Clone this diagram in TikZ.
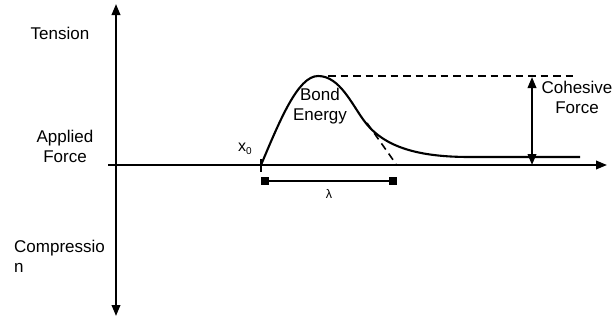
\documentclass[tikz,border=0pt]{standalone}
\usepackage{fontspec}
\setmainfont{Liberation Sans}
\usetikzlibrary{arrows.meta,positioning}

\begin{document}
\begin{tikzpicture}[
  x=1pt, y=-1pt,
  txt/.style={font=\fontsize{17}{20}\selectfont, align=center, inner sep=0pt},
  axis/.style={line width=2.1pt},
  tip/.style={-{Triangle[length=11pt,width=8.5pt]}},
  bothtips/.style={{Triangle[length=11pt,width=8.5pt]}-{Triangle[length=11pt,width=8.5pt]}},
  curve/.style={line width=2.1pt},
  guide/.style={line width=1.6pt, dash pattern=on 7.5pt off 5pt},
  endbox/.style={fill=black, minimum size=8pt, inner sep=0pt}
]
  \useasboundingbox (0,0) rectangle (615,322);

  % axes
  \coordinate (vtop) at (116,4);
  \coordinate (vbot) at (116,316);
  \coordinate (hleft) at (108,165);
  \coordinate (hright) at (607,165);
  \draw[axis, bothtips] (vbot) -- (vtop);
  \draw[axis, tip] (hleft) -- (hright);

  % axis labels
  \node[txt, anchor=base] (tension) at (60,39) {Tension};
  \node[txt, anchor=base] (applied) at (65,162) {Applied\\Force};
  \node[txt, anchor=base west, align=left] (compression) at (14,272) {Compressio\\n};

  % force curve
  \coordinate (start) at (261,165);
  \coordinate (peak) at (318,76);
  \coordinate (bend) at (365,122);
  \coordinate (tail) at (580,157);
  \draw[curve] (start) .. controls (280,120) and (298,76) .. (peak)
    .. controls (340,76) and (352,105) .. (bend)
    .. controls (385,148) and (420,157) .. (470,157) -- (tail);
  \draw[line width=1.6pt] (261,159) -- (261,172);
  \node[inner sep=0pt, anchor=base west] (xzero) at (238,151)
    {\fontsize{16}{16}\selectfont x\raisebox{-3pt}{\fontsize{10}{10}\selectfont 0}};

  % guides
  \coordinate (dstart) at (328,76);
  \coordinate (dend) at (573,76);
  \coordinate (tstart) at (367,123);
  \coordinate (tend) at (396,164);
  \draw[guide] (dstart) -- (dend);
  \draw[guide] (tstart) -- (tend);

  \node[txt, anchor=base] (bond) at (320,120) {Bond\\Energy};

  % cohesive force
  \coordinate (ctop) at (532,77);
  \coordinate (cbot) at (532,165);
  \draw[axis, bothtips] (cbot) -- (ctop);
  \node[txt, anchor=base] (cohesive) at (577,113) {Cohesive\\Force};

  % lambda
  \node[endbox] (lleft) at (265,181) {};
  \node[endbox] (lright) at (393,181) {};
  \draw[line width=2.1pt] (lleft) -- (lright);
  \node[inner sep=0pt, anchor=base] (lambda) at (329,198) {\fontsize{12.5}{12.5}\selectfont λ};
\end{tikzpicture}
\end{document}
